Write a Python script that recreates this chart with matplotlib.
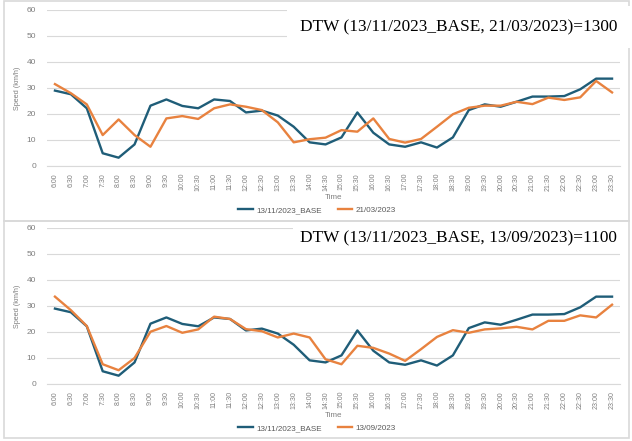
import matplotlib
matplotlib.use("Agg")
import matplotlib.pyplot as plt
from matplotlib.patches import Rectangle

times = ["6:00", "6:30", "7:00", "7:30", "8:00", "8:30", "9:00", "9:30", "10:00", "10:30",
         "11:00", "11:30", "12:00", "12:30", "13:00", "13:30", "14:00", "14:30", "15:00", "15:30",
         "16:00", "16:30", "17:00", "17:30", "18:00", "18:30", "19:00", "19:30", "20:00", "20:30",
         "21:00", "21:30", "22:00", "22:30", "23:00", "23:30"]

base_13_11 = [29.0, 27.6, 22.2, 4.9, 3.2, 8.3, 23.2, 25.6, 23.1, 22.2,
              25.6, 25.0, 20.6, 21.3, 19.4, 15.1, 9.1, 8.3, 11.0, 20.6,
              12.8, 8.3, 7.4, 9.1, 7.1, 11.0, 21.5, 23.7, 22.8, 24.7,
              26.7, 26.7, 26.9, 29.5, 33.6, 33.6]

day_21_03 = [31.5, 28.0, 23.7, 11.9, 17.9, 11.9, 7.4, 18.3, 19.2, 18.1,
             22.2, 23.7, 22.8, 21.5, 16.8, 9.1, 10.3, 10.9, 13.8, 13.2,
             18.3, 10.4, 9.0, 10.4, 15.1, 19.9, 22.4, 23.2, 23.2, 24.7,
             23.8, 26.3, 25.4, 26.4, 32.7, 28.3]

day_13_09 = [33.6, 28.4, 22.3, 7.6, 5.3, 10.0, 20.1, 22.3, 19.7, 21.0,
             25.9, 25.0, 21.1, 20.3, 17.9, 19.4, 17.9, 9.5, 7.6, 14.7,
             13.9, 11.7, 8.9, 13.4, 18.1, 20.7, 19.7, 21.0, 21.4, 22.0,
             21.0, 24.3, 24.3, 26.4, 25.6, 30.5]

panels = [
    ("13/11/2023_BASE", base_13_11, "21/03/2023", day_21_03,
     "DTW (13/11/2023_BASE, 21/03/2023)=1300"),
    ("13/11/2023_BASE", base_13_11, "13/09/2023", day_13_09,
     "DTW (13/11/2023_BASE, 13/09/2023)=1100"),
]

BLUE = "#1f5d78"
ORANGE = "#e8823f"
GRID = "#d9d9d9"
TXT = "#7f7f7f"
W, H = 632, 441

fig = plt.figure(figsize=(W / 100, H / 100), dpi=100)
plt.rcParams['font.family'] = ['Liberation Sans', 'DejaVu Sans']

# panel frames (pixel coords: left, top, right, bottom)
frames = [(4, 1, 629, 221), (4, 221, 629, 438)]
for (l, t, r, b) in frames:
    fig.patches.append(Rectangle((l / W, 1 - b / H), (r - l) / W, (b - t) / H,
                                 transform=fig.transFigure, fill=False,
                                 edgecolor=GRID, lw=1.2, zorder=0))

ax_specs = [(166, 10), (384, 228)]  # pixel y of 0 and 60
title_y = [27, 238]
title_pad = [9, 5]
legend_y = [210, 428]

for i, (n1, s1, n2, s2, title) in enumerate(panels):
    y0, y60 = ax_specs[i]
    ax = fig.add_axes([47 / W, 1 - y0 / H, (620 - 47) / W, (y0 - y60) / H])
    x = list(range(len(times)))
    l1, = ax.plot(x, s1, color=BLUE, lw=1.7, label=n1, zorder=3)
    l2, = ax.plot(x, s2, color=ORANGE, lw=1.7, label=n2, zorder=3)
    ax.set_xlim(-0.5, len(times) - 0.5)
    ax.set_ylim(0, 60)
    ax.set_yticks(range(0, 61, 10))
    ax.set_xticks(x)
    ax.set_xticklabels(times, rotation=90, fontsize=5, color=TXT)
    ax.tick_params(axis='y', labelsize=6, labelcolor=TXT, length=0, pad=8)
    ax.tick_params(axis='x', length=0, pad=5)
    ax.grid(axis='y', color=GRID, lw=0.8)
    ax.set_axisbelow(True)
    for sp in ["top", "right", "left"]:
        ax.spines[sp].set_visible(False)
    ax.spines["bottom"].set_color(GRID)
    ax.spines["bottom"].set_linewidth(0.8)
    ax.set_ylabel("Speed (km/h)", fontsize=5.2, color=TXT, labelpad=4)
    ax.set_xlabel("Time", fontsize=5.8, color=TXT, labelpad=2)
    fig.legend(handles=[l1, l2], loc="center",
               bbox_to_anchor=(317 / W, 1 - legend_y[i] / H),
               bbox_transform=fig.transFigure, ncol=2, frameon=False,
               fontsize=5.8, labelcolor="#595959", handlelength=1.8,
               handletextpad=0.4, columnspacing=2.0)
    fig.text(617 / W, 1 - title_y[i] / H, title, ha="right", va="center",
             fontsize=12.4, family=["Liberation Serif", "DejaVu Serif"], color="black",
             bbox=dict(facecolor="white", edgecolor="none", pad=title_pad[i]), zorder=5)

fig.savefig("out.png", dpi=100, facecolor="white")
